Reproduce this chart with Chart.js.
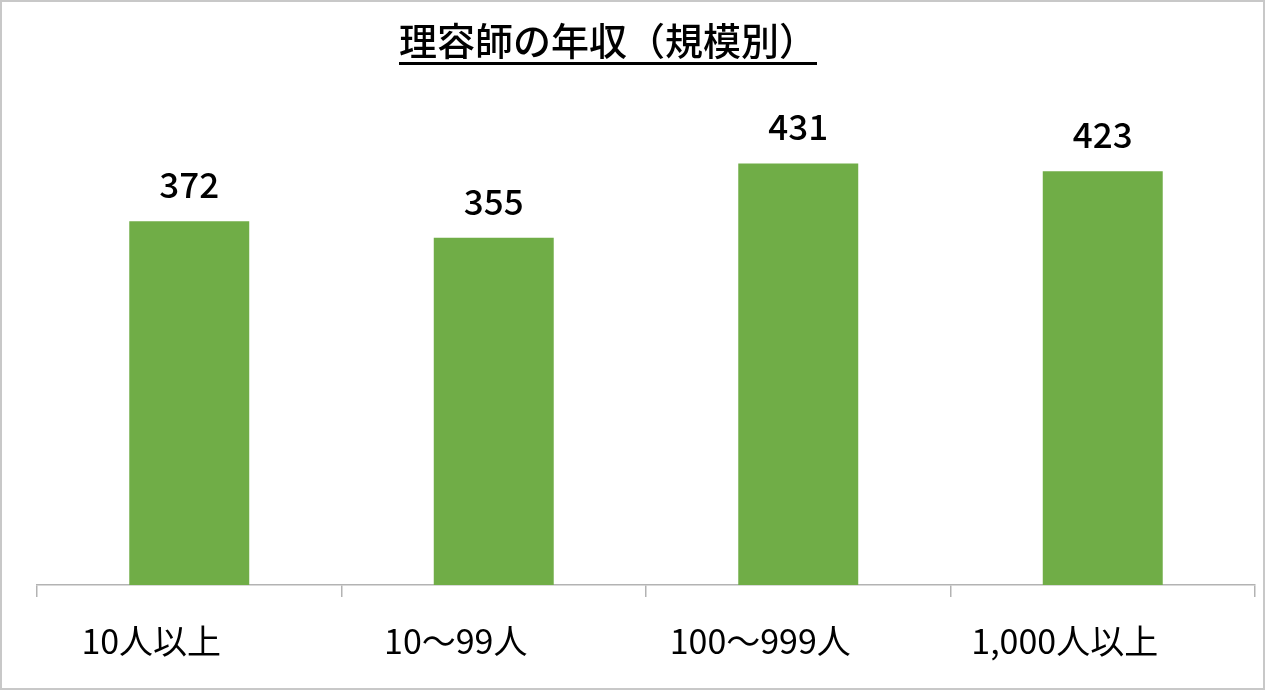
<!DOCTYPE html>
<html>
<head>
<meta charset="utf-8">
<script src="https://cdn.jsdelivr.net/npm/chart.js@4/dist/chart.umd.min.js"></script>
<style>
  html, body { margin: 0; padding: 0; background: #fff; }
  #wrap { width: 1266px; height: 691px; }
</style>
</head>
<body>
<div id="wrap"><canvas id="c" width="1266" height="691"></canvas></div>
<script>
// values (万円)
const categories = ['10人以上', '10～99人', '100～999人', '1,000人以上'];
const salaries = [372, 355, 431, 423];
const yMin = 0;
const yMax = 500;
const chartTitle = '理容師の年収（規模別）';

const FONT = '"Noto Sans CJK JP", "Noto Sans", sans-serif';
const BAR_COLOR = '#70AD47';
const AXIS_COLOR = '#b3b3b3';

// Excel draws the category text a bit left of the bar centre
const labelShift = -38;

const decorations = {
  id: 'decorations',
  beforeDraw(chart) {
    const ctx = chart.ctx;
    ctx.save();
    ctx.fillStyle = '#fff';
    ctx.fillRect(0, 0, chart.width, chart.height);
    ctx.restore();
  },
  afterDatasetsDraw(chart) {
    const ctx = chart.ctx;
    const meta = chart.getDatasetMeta(0);
    ctx.save();
    ctx.font = '500 35px ' + FONT;
    ctx.fillStyle = '#000';
    ctx.textAlign = 'center';
    ctx.textBaseline = 'alphabetic';
    meta.data.forEach((bar, i) => {
      ctx.fillText(String(salaries[i]), bar.x, bar.y - 23);
    });
    ctx.restore();
  },
  afterDraw(chart) {
    const ctx = chart.ctx;
    const xs = chart.scales.x;
    ctx.save();

    // category labels
    ctx.font = '34px ' + FONT;
    ctx.fillStyle = '#000';
    ctx.textAlign = 'center';
    ctx.textBaseline = 'middle';
    categories.forEach((c, i) => {
      ctx.fillText(c, xs.getPixelForValue(i) + labelShift, 641);
    });

    // title with underline
    ctx.font = '500 38px ' + FONT;
    ctx.textBaseline = 'middle';
    const tx = 608;
    ctx.fillText(chartTitle, tx, 41);
    const w = ctx.measureText(chartTitle).width;
    ctx.fillRect(tx - w / 2, 62, w, 3);

    // outer frame
    ctx.strokeStyle = '#c8c8c8';
    ctx.lineWidth = 2;
    ctx.strokeRect(1, 1, chart.width - 3, chart.height - 3);
    ctx.restore();
  }
};

new Chart(document.getElementById('c'), {
  type: 'bar',
  data: {
    labels: categories,
    datasets: [{
      data: salaries,
      backgroundColor: BAR_COLOR,
      borderWidth: 0,
      categoryPercentage: 1,
      barPercentage: 0.394
    }]
  },
  options: {
    responsive: false,
    animation: false,
    layout: { padding: { left: 37, right: 11, top: 96, bottom: 94 } },
    plugins: {
      legend: { display: false },
      title: { display: false },
      tooltip: { enabled: false }
    },
    scales: {
      x: {
        offset: true,
        grid: {
          display: true,
          offset: true,
          drawOnChartArea: false,
          drawTicks: true,
          tickLength: 12,
          color: AXIS_COLOR,
          lineWidth: 1.5
        },
        border: { display: true, color: AXIS_COLOR, width: 1.5 },
        ticks: { display: false }
      },
      y: {
        display: false,
        min: yMin,
        max: yMax
      }
    }
  },
  plugins: [decorations]
});
</script>
</body>
</html>
